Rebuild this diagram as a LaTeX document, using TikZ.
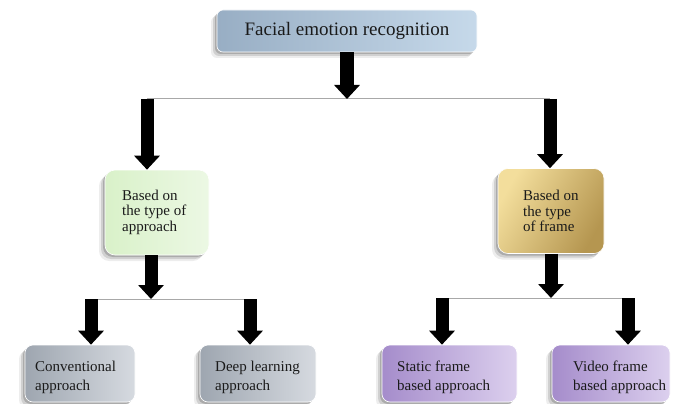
\documentclass[tikz,border=0pt]{standalone}
\usepackage{fontspec}
\setmainfont{Liberation Serif}
\usetikzlibrary{arrows.meta,shadows}
\definecolor{topL}{HTML}{98AEC4}
\definecolor{topR}{HTML}{C6D9EA}
\definecolor{grnL}{HTML}{D9F1C9}
\definecolor{grnR}{HTML}{ECF8E4}
\definecolor{gldL}{HTML}{F3DE9C}
\definecolor{gldR}{HTML}{B59650}
\definecolor{gryL}{HTML}{9EA6B0}
\definecolor{gryR}{HTML}{D6DAE0}
\definecolor{prpL}{HTML}{A58CCB}
\definecolor{prpR}{HTML}{DCD0EE}
\definecolor{txtc}{HTML}{1A1A1A}
\definecolor{linec}{HTML}{A8A8A8}
\tikzset{
  softshadow/.style={
    drop shadow={shadow xshift=-2pt,shadow yshift=-2pt,opacity=0.18,fill=black},
    drop shadow={shadow xshift=-4pt,shadow yshift=-4pt,opacity=0.12,fill=black},
    drop shadow={shadow xshift=-6pt,shadow yshift=-6pt,opacity=0.07,fill=black}},
  boxbase/.style={rounded corners=8pt, draw=white, line width=0.6pt, softshadow, inner sep=0pt},
  txt/.style={text=txtc, align=left, inner sep=0pt},
  midtxt/.style={txt, font=\fontsize{15}{15.5}\selectfont},
  bottxt/.style={txt, font=\fontsize{15}{19}\selectfont},
  bigarrow/.style={draw=black, line width=13pt, -{Triangle[width=25pt,length=14pt]}},
  branch/.style={draw=linec, line width=1pt}
}
\begin{document}
\begin{tikzpicture}[x=1pt,y=-1pt]
\useasboundingbox (0,0) rectangle (678,404);
% boxes
\node[boxbase, rounded corners=6pt, left color=topL, right color=topR, minimum width=260pt, minimum height=42pt,
      text=txtc, font=\fontsize{19}{22}\selectfont] (top) at (347,31) {Facial emotion recognition};
\node[boxbase, rounded corners=10pt, left color=grnL, right color=grnR, minimum width=104pt, minimum height=85pt] (mid1) at (157,212.5) {};
\node[boxbase, rounded corners=10pt, left color=gldL, right color=gldR, shading angle=60, minimum width=106pt, minimum height=85pt] (mid2) at (551,211) {};
\node[boxbase, left color=gryL, right color=gryR, minimum width=110pt, minimum height=57pt] (b1) at (80,373.5) {};
\node[boxbase, left color=gryL, right color=gryR, minimum width=116pt, minimum height=57pt] (b2) at (258,373.5) {};
\node[boxbase, left color=prpL, right color=prpR, minimum width=135pt, minimum height=57pt] (b3) at (449.5,373.5) {};
\node[boxbase, left color=prpL, right color=prpR, minimum width=118pt, minimum height=57pt] (b4) at (611,373.5) {};
% texts
\node[midtxt, anchor=west] (t1) at (122,212) {Based on\\the type of\\approach};
\node[midtxt, anchor=west] (t2) at (523,211) {Based on\\the type\\of frame};
\node[bottxt, anchor=west] (t3) at (35,377) {Conventional\\approach};
\node[bottxt, anchor=west] (t4) at (215,377) {Deep learning\\approach};
\node[bottxt, anchor=west] (t5) at (397,377) {Static frame\\based approach};
\node[bottxt, anchor=west] (t6) at (573,377) {Video frame\\based approach};
% junction coordinates
\coordinate (j0) at (top.south |- 0,99);
\coordinate (j0l) at (147,99);
\coordinate (j0r) at (550,99);
\coordinate (j1) at (151,299);
\coordinate (j1l) at (91,299);
\coordinate (j1r) at (250,299);
\coordinate (j2) at (551,298);
\coordinate (j2l) at (442,298);
\coordinate (j2r) at (628,298);
% branch lines
\draw[branch] (j0l) -- (j0r);
\draw[branch] (j1l) -- (j1r);
\draw[branch] (j2l) -- (j2r);
% arrows
\draw[bigarrow, line width=14pt] (top.south) -- (j0);
\draw[bigarrow] (j0l) -- (j0l |- mid1.north);
\draw[bigarrow] (j0r) -- (j0r |- mid2.north);
\draw[bigarrow] (mid1.south -| j1) -- (j1);
\draw[bigarrow] (j1l) -- (j1l |- b1.north);
\draw[bigarrow] (j1r) -- (j1r |- b2.north);
\draw[bigarrow] (mid2.south -| j2) -- (j2);
\draw[bigarrow] (j2l) -- (j2l |- b3.north);
\draw[bigarrow] (j2r) -- (j2r |- b4.north);
\end{tikzpicture}
\end{document}
